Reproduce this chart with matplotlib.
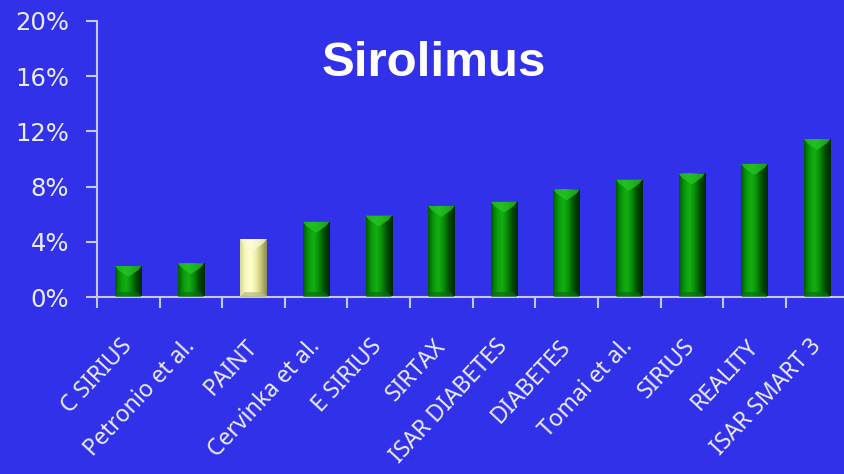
import numpy as np
import matplotlib.pyplot as plt
from matplotlib.colors import LinearSegmentedColormap
from matplotlib.patches import Polygon
from matplotlib.ticker import FuncFormatter

# late lumen loss / event rate per trial (percent)
trials = ["C SIRIUS", "Petronio et al.", "PAINT", "Cervinka et al.", "E SIRIUS",
          "SIRTAX", "ISAR DIABETES", "DIABETES", "Tomai et al.", "SIRIUS",
          "REALITY", "ISAR SMART 3"]
rates = [2.25, 2.45, 4.2, 5.45, 5.9, 6.6, 6.9, 7.8, 8.5, 8.95, 9.65, 11.45]
highlight = "PAINT"

BG = "#3131ea"
AXIS_COL = "#c8c8f4"
TEXT_COL = "#ececf8"

green_cmap = LinearSegmentedColormap.from_list(
    "green_bar", ["#005c00", "#0a9a0a", "#13b013", "#078a07", "#004a00", "#002800"])
yellow_cmap = LinearSegmentedColormap.from_list(
    "yellow_bar", ["#d8d890", "#fafac0", "#ffffd0", "#eeeea8", "#c0c078", "#8c8c50"])

fig = plt.figure(figsize=(8.45, 4.74), dpi=100)
fig.patch.set_facecolor(BG)
ax = fig.add_axes([97 / 845, 0.3734, 1 - 97 / 845 + 0.004, 0.5823])
ax.set_facecolor(BG)

x = np.arange(len(trials))
width = 0.42
bars = ax.bar(x, rates, width=width, color="none", edgecolor="none", zorder=2)

grad = np.linspace(0, 1, 64).reshape(1, -1)
for name, bar in zip(trials, bars):
    cmap = yellow_cmap if name == highlight else green_cmap
    x0, x1 = bar.get_x(), bar.get_x() + bar.get_width()
    h = bar.get_height()
    im = ax.imshow(grad, cmap=cmap, aspect="auto", extent=(x0, x1, 0, h),
                   zorder=2, interpolation="bicubic")
    im.set_clip_path(bar)
    # bevelled top and bottom faces
    d = 0.8
    top_col = "#fbfbd8" if name == highlight else "#27c427"
    bot_col = "#b8b878" if name == highlight else "#0d6e0d"
    ax.add_patch(Polygon([(x0, h), (x1, h), (x1 - 0.05, h - 0.3), ((x0 + x1) / 2, h - d),
                          (x0 + 0.05, h - 0.3)], closed=True, facecolor=top_col,
                         edgecolor="none", alpha=0.75, zorder=3))
    ax.add_patch(Polygon([(x0, 0), (x1, 0), (x1 - 0.06, 0.35), (x0 + 0.06, 0.35)],
                         closed=True, facecolor=bot_col, edgecolor="none",
                         alpha=0.7, zorder=3))

ax.set_xlim(-0.5, len(trials) - 0.5)
ax.set_ylim(0, 20)
ax.set_yticks(np.arange(0, 21, 4))
ax.yaxis.set_major_formatter(FuncFormatter(lambda v, _: f"{v:.0f}%"))

ax.set_xticks(x)
ax.set_xticklabels(trials, rotation=47, ha="right", va="center",
                   rotation_mode="anchor", fontsize=16.5, color=TEXT_COL,
                   family="Noto Sans")
ax.set_xticks(np.arange(-0.5, len(trials), 1), minor=True)
ax.tick_params(axis="x", which="major", length=0, pad=33)
ax.tick_params(axis="x", which="minor", length=8, width=1.5, color=AXIS_COL)
ax.tick_params(axis="y", length=8, width=1.5, color=AXIS_COL, labelsize=17.5,
               labelcolor=TEXT_COL, pad=12)

for side in ["top", "right"]:
    ax.spines[side].set_visible(False)
for side in ["left", "bottom"]:
    ax.spines[side].set_color(AXIS_COL)
    ax.spines[side].set_linewidth(1.5)

fig.text(434 / 845, 1 - 63 / 474, "Sirolimus", color="white", fontsize=35.5,
         fontweight="bold", family="Liberation Sans", ha="center", va="center")

fig.savefig("out.png", dpi=100, facecolor=BG)
